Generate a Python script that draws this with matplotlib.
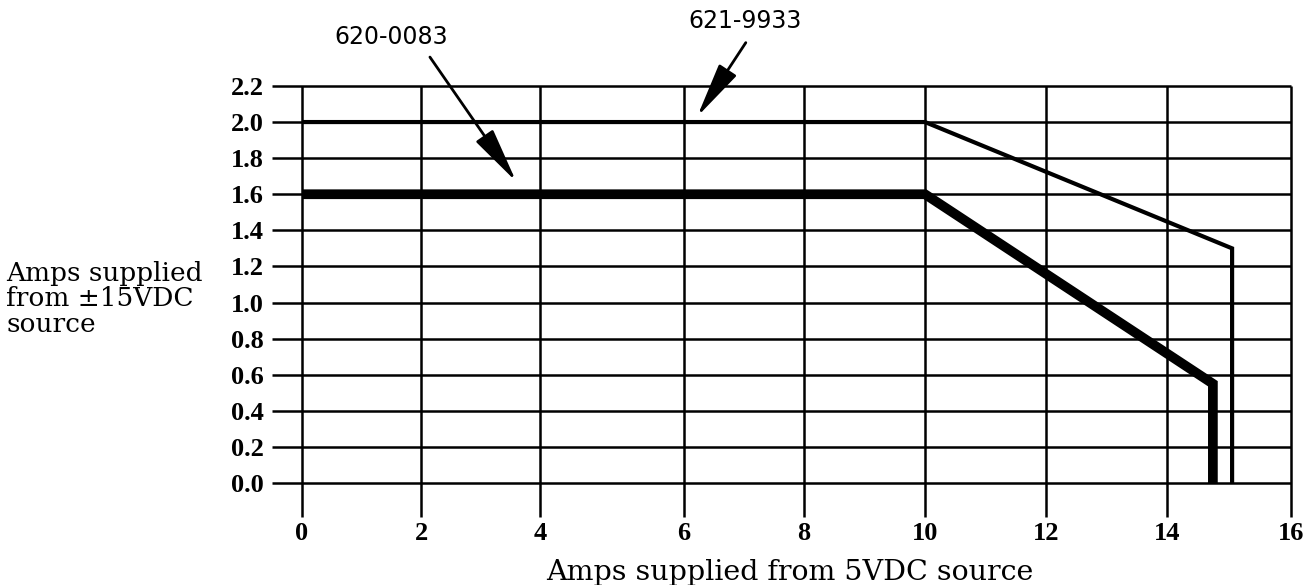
import matplotlib
matplotlib.use("Agg")
import matplotlib.pyplot as plt
import numpy as np

# curve data
x_621 = [0, 10, 15.05, 15.05]
y_621 = [2.0, 2.0, 1.3, 0.0]
x_620 = [0, 10, 14.74, 14.74]
y_620 = [1.6, 1.6, 0.55, 0.0]

x_ticks = [0, 2, 4, 6, 8, 10, 12, 14, 16]
y_ticks = [0.0, 0.2, 0.4, 0.6, 0.8, 1.0, 1.2, 1.4, 1.6, 1.8, 2.0, 2.2]
y_tick_labels = ["%.1f" % v for v in y_ticks]

serif = "DejaVu Serif"
tick_font = "Liberation Serif"
sans = "DejaVu Sans"

# the printed grid is not evenly spaced (wider gap between 4 and 6),
# so use a piecewise-linear x scale that follows the drawn grid
knots = np.array([-2, 0, 2, 4, 6, 8, 10, 12, 14, 16, 18], dtype=float)
knot_pos = np.array([183, 302, 421, 540, 684, 804, 925, 1046, 1167, 1291, 1415], dtype=float)


def fwd(x):
    return np.interp(x, knots, knot_pos)


def inv(p):
    return np.interp(p, knot_pos, knots)


x_lo, x_hi = -0.5, 16.05
left_px, right_px = fwd(x_lo), fwd(x_hi)

fig = plt.figure(figsize=(13.09, 5.85), dpi=100)
ax = fig.add_axes([left_px / 1309, 0.1127, (right_px - left_px) / 1309, 0.8685 - 0.1127])
ax.set_xscale("function", functions=(fwd, inv))
ax.set_xlim(x_lo, x_hi)
ax.set_ylim(-0.2, 2.25)
for s in ax.spines.values():
    s.set_visible(False)

# grid
ax.hlines(y_ticks, -0.5, 16, color="black", lw=1.8, zorder=1)
ax.vlines(x_ticks, -0.19, 2.2, color="black", lw=1.8, zorder=1)

# curves
ax.plot(x_621, y_621, color="black", lw=3.0, solid_joinstyle="miter",
        solid_capstyle="butt", zorder=3)
ax.plot(x_620, y_620, color="black", lw=7.0, solid_joinstyle="miter",
        solid_capstyle="butt", zorder=3)

ax.set_xticks(x_ticks)
ax.set_xticklabels([str(v) for v in x_ticks], fontsize=19, family=tick_font,
                   fontweight="bold")
ax.set_yticks(y_ticks)
ax.set_yticklabels(y_tick_labels, fontsize=19, family=tick_font, fontweight="bold")
ax.tick_params(axis="both", length=0)
ax.tick_params(axis="x", pad=2)
ax.tick_params(axis="y", pad=6)
ax.minorticks_off()

# callouts
arrow = dict(arrowstyle="-|>,head_length=1.7,head_width=0.32", color="black",
             lw=2.0, mutation_scale=20, shrinkA=0, shrinkB=0)
ax.annotate("", xy=(3.6, 1.67), xytext=(2.15, 2.36), arrowprops=arrow,
            annotation_clip=False)
ax.annotate("", xy=(6.22, 2.03), xytext=(7.03, 2.44), arrowprops=arrow,
            annotation_clip=False)
ax.text(1.5, 2.47, "620-0083", fontsize=17, family=sans, ha="center",
        va="center", clip_on=False)
ax.text(7.02, 2.56, "621-9933", fontsize=17, family=sans, ha="center",
        va="center", clip_on=False)

fig.text(790 / 1309, 1 - 572 / 585, "Amps supplied from 5VDC source",
         fontsize=20.5, family=serif, ha="center", va="center")
fig.text(6 / 1309, 1 - 299 / 585, "Amps supplied\nfrom \u00b115VDC\nsource",
         fontsize=19, family=serif, ha="left", va="center", linespacing=1.05)

fig.savefig("out.png", dpi=100, facecolor="white")
